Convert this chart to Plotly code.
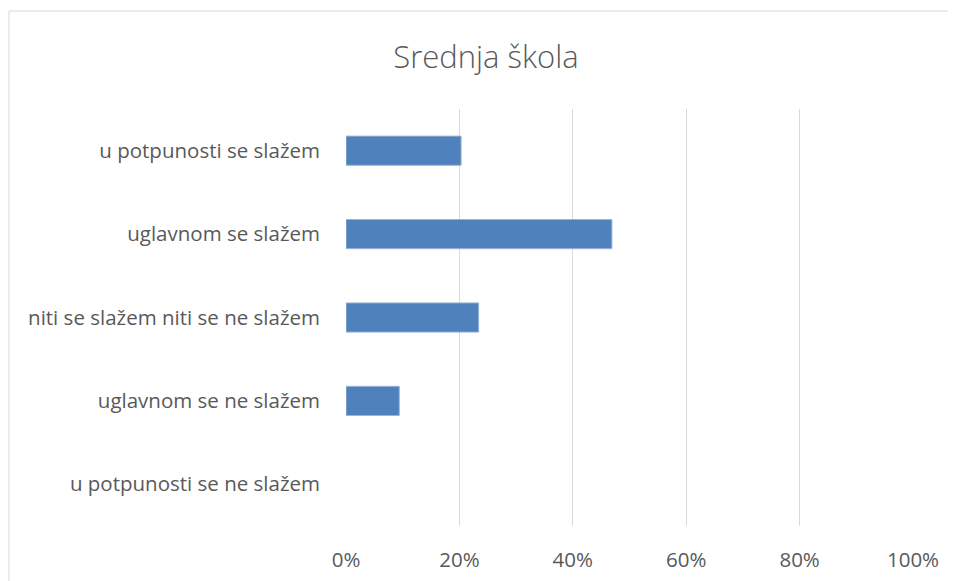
import plotly.graph_objects as go

categories = [
    "u potpunosti se ne slažem",
    "uglavnom se ne slažem",
    "niti se slažem niti se ne slažem",
    "uglavnom se slažem",
    "u potpunosti se slažem",
]
values = [0.0, 0.094, 0.234, 0.469, 0.203]
x_ticks = [0, 0.2, 0.4, 0.6, 0.8, 1.0]
x_tick_labels = ["0%", "20%", "40%", "60%", "80%", "100%"]
title_text = "Srednja škola"

FONT = "'Open Sans', 'Segoe UI', Calibri, sans-serif"

fig = go.Figure(
    go.Bar(
        x=values,
        y=categories,
        orientation="h",
        marker=dict(
            color="#4F81BD",
            line=dict(color="#9BB5DA", width=[1 if v > 0 else 0 for v in values]),
        ),
        width=0.35,
    )
)

# page has an 8px body margin; figure coords = page coords - 8
OFF = 8
W, H = 948, 573
L = 346 - OFF
T = 109 - OFF
R = W - (913 - OFF)
B = H - (526 - OFF)
pw = W - L - R
ph = H - T - B

fig.update_layout(
    width=W,
    height=H,
    margin=dict(l=L, r=R, t=T, b=B, pad=0, autoexpand=False),
    paper_bgcolor="white",
    plot_bgcolor="white",
    showlegend=False,
    title=dict(
        text=title_text,
        x=(486 - OFF) / W,
        xanchor="center",
        y=1 - (57 - OFF) / H,
        yanchor="middle",
        yref="container",
        font=dict(family=FONT, size=31, color="#595959", weight=300),
    ),
    xaxis=dict(
        range=[0, 1],
        tickvals=x_ticks,
        ticktext=x_tick_labels,
        showgrid=True,
        gridcolor="#D9D9D9",
        gridwidth=1,
        zeroline=False,
        showline=False,
        ticks="",
        ticklabelstandoff=19,
        tickfont=dict(family=FONT, size=20.5, color="#595959"),
        fixedrange=True,
    ),
    yaxis=dict(
        categoryorder="array",
        categoryarray=categories,
        showgrid=False,
        zeroline=False,
        showline=False,
        ticks="",
        ticklabelstandoff=25,
        tickfont=dict(family=FONT, size=20.5, color="#595959"),
        fixedrange=True,
    ),
    shapes=[
        dict(
            type="rect",
            xref="paper",
            yref="paper",
            x0=(1 - L) / pw,
            x1=(W + 20 - L) / pw,
            y0=-(B + 20) / ph,
            y1=1 + (109 - 11) / ph,
            line=dict(color="#D9D9D9", width=1),
            fillcolor="rgba(0,0,0,0)",
            layer="below",
        )
    ],
)

fig.write_html("out.html")
